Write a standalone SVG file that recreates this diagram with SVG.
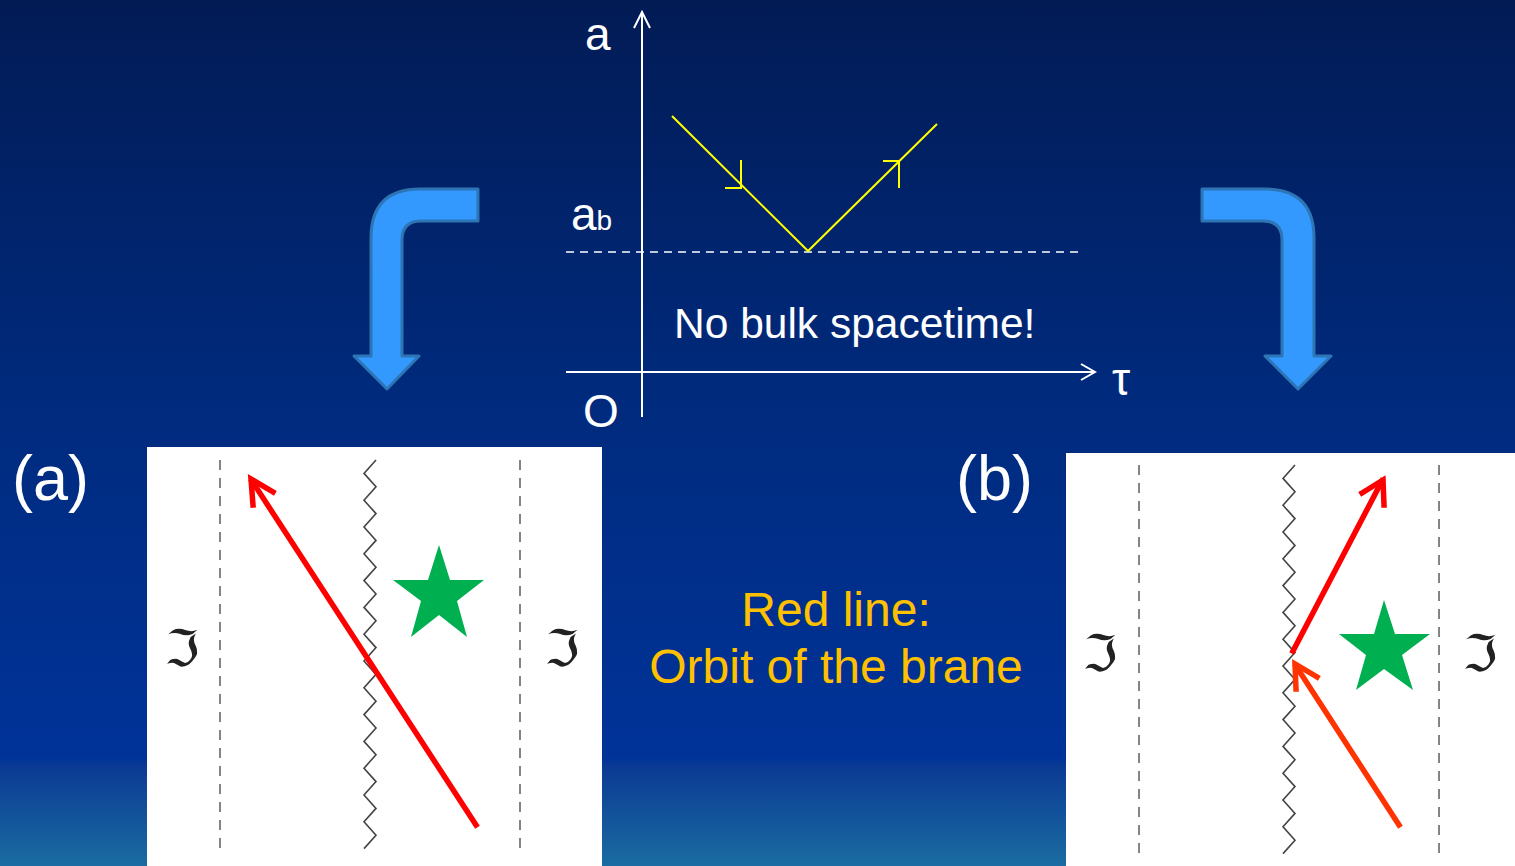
<svg xmlns="http://www.w3.org/2000/svg" width="1515" height="866" viewBox="0 0 1515 866">
<defs>
<linearGradient id="bg" x1="0" y1="0" x2="0" y2="1">
<stop offset="0" stop-color="#021b55"/>
<stop offset="0.45" stop-color="#002a7c"/>
<stop offset="0.875" stop-color="#003399"/>
<stop offset="0.885" stop-color="#0b3a94"/>
<stop offset="1" stop-color="#1a6ca2"/>
</linearGradient>
<style>
.w{fill:#fff;font-family:"Liberation Sans",Arial,sans-serif}
.y{fill:#ffc000;font-family:"Liberation Sans",Arial,sans-serif;font-size:48px;text-anchor:middle}
.frak{fill:#222;font-family:"DejaVu Serif","DejaVu Sans",serif;font-size:50px;text-anchor:middle}
.dash{stroke:#666;stroke-width:1.6;stroke-dasharray:10 8;fill:none}
.zig{stroke:#444;stroke-width:1.6;fill:none;stroke-linejoin:miter}
.ax{stroke:#fff;stroke-width:2;fill:none}
.yl{stroke:#ffff00;stroke-width:2;fill:none}
.bend{fill:#3399ff;stroke:#2e75b6;stroke-width:3;stroke-linejoin:round}
.red{stroke:#ff0000;stroke-width:5.5;fill:none;stroke-linecap:square;stroke-linejoin:miter}
.org{stroke:#ff3300;stroke-width:5.5;fill:none;stroke-linecap:square;stroke-linejoin:miter}
.star{fill:#00b050}
</style>
</defs>
<rect width="1515" height="866" fill="url(#bg)"/>

<g id="graph">
<line class="ax" x1="642" y1="12" x2="642" y2="417"/>
<polyline class="ax" points="634,28 642,12 650,28"/>
<line class="ax" x1="566" y1="372" x2="1095" y2="372"/>
<polyline class="ax" points="1081,364 1095,372 1081,380"/>
<line x1="566" y1="252" x2="1080" y2="252" stroke="#fff" stroke-width="1.6" stroke-dasharray="8 6"/>
<polyline class="yl" points="672,116 808,251 937,124"/>
<polyline class="yl" points="741,160 741,188 725,188"/>
<polyline class="yl" points="883,161 899,161 899,188"/>
<text class="w" x="585" y="50" font-size="46">a</text>
<text class="w" x="571" y="230" font-size="46">a<tspan font-size="28">b</tspan></text>
<text class="w" x="674" y="338" font-size="42.5">No bulk spacetime!</text>
<text class="w" x="583" y="427" font-size="46">O</text>
<text class="w" x="1112" y="395" font-size="46" font-family="Liberation Serif,serif">τ</text>
</g>

<g id="panel-a">
<rect x="147" y="447" width="455" height="419" fill="#fff"/>
<line class="dash" x1="220" y1="460" x2="220" y2="850"/>
<line class="dash" x1="520" y1="460" x2="520" y2="850"/>
<path class="zig" d="M376,460 l-12,13.4 l12,13.4 l-12,13.4 l12,13.4 l-12,13.4 l12,13.4 l-12,13.4 l12,13.4 l-12,13.4 l12,13.4 l-12,13.4 l12,13.4 l-12,13.4 l12,13.4 l-12,13.4 l12,13.4 l-12,13.4 l12,13.4 l-12,13.4 l12,13.4 l-12,13.4 l12,13.4 l-12,13.4 l12,13.4 l-12,13.4 l12,13.4 l-12,13.4 l12,13.4 l-12,13.4"/>
<polygon class="star" points="439,545 450,580 484,580 457,601 467,637 439,615 411,637 421,601 393,580 428,580"/>
<text class="frak" x="182" y="666">ℑ</text>
<text class="frak" x="562" y="666">ℑ</text>
</g>

<g id="panel-b">
<rect x="1066" y="453" width="449" height="413" fill="#fff"/>
<line class="dash" x1="1139" y1="465" x2="1139" y2="857"/>
<line class="dash" x1="1439" y1="465" x2="1439" y2="857"/>
<path class="zig" d="M1295,465 l-12,13.4 l12,13.4 l-12,13.4 l12,13.4 l-12,13.4 l12,13.4 l-12,13.4 l12,13.4 l-12,13.4 l12,13.4 l-12,13.4 l12,13.4 l-12,13.4 l12,13.4 l-12,13.4 l12,13.4 l-12,13.4 l12,13.4 l-12,13.4 l12,13.4 l-12,13.4 l12,13.4 l-12,13.4 l12,13.4 l-12,13.4 l12,13.4 l-12,13.4 l12,13.4 l-12,13.4"/>
<polygon class="star" points="1384,600 1395,634 1430,634 1402,655 1413,690 1384,669 1356,690 1366,655 1339,634 1374,634"/>
<text class="frak" x="1100" y="671">ℑ</text>
<text class="frak" x="1480" y="671">ℑ</text>
</g>

<g id="label-a"><text class="w" x="12" y="500" font-size="63">(a)</text></g>
<g id="label-b"><text class="w" x="956" y="500" font-size="63">(b)</text></g>
<g id="caption">
<text class="y" x="836" y="626">Red line:</text>
<text class="y" x="836" y="683">Orbit of the brane</text>
</g>

<g id="connectors">
<path class="bend" d="M478,189 L420,189 Q371,189 371,238 L371,356 L354,356 L387,389 L419,356 L402,356 L402,240 Q402,221 421,221 L478,221 Z"/>
<path class="bend" d="M1202,189 L1265,189 Q1314,189 1314,238 L1314,356 L1331,356 L1298,389 L1265,356 L1282,356 L1282,240 Q1282,221 1263,221 L1202,221 Z"/>
<line class="red" x1="476" y1="825" x2="252" y2="481"/>
<polyline class="red" points="273,492 251,479 253,505"/>
<line class="red" x1="1293" y1="651" x2="1382" y2="481"/>
<polyline class="red" points="1362,493 1383,480 1384,505"/>
<line class="org" x1="1399" y1="825" x2="1296" y2="666"/>
<polyline class="org" points="1317,677 1295,664 1296,689"/>
</g>
</svg>
